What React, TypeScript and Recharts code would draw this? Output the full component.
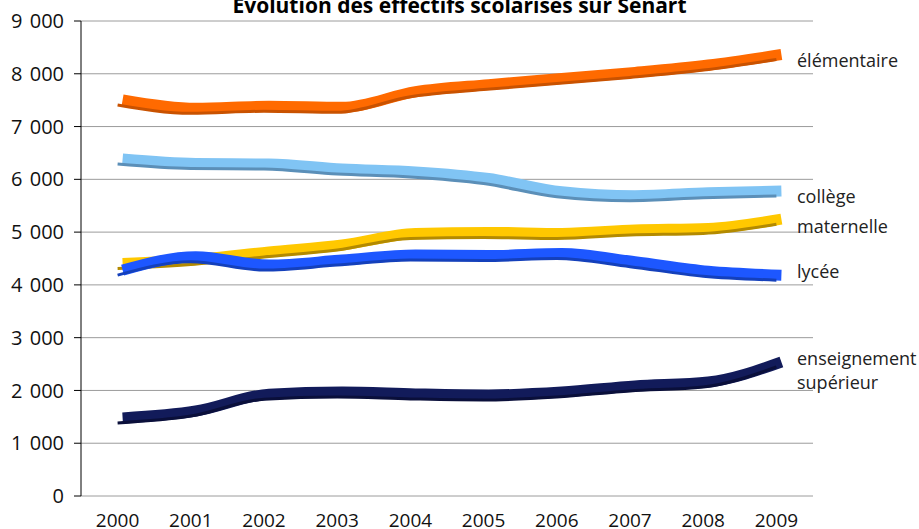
import { LineChart, Line, XAxis, YAxis, CartesianGrid } from "recharts"

const years = ["2000", "2001", "2002", "2003", "2004", "2005", "2006", "2007", "2008", "2009"]
const elementaire = [7410, 7250, 7290, 7270, 7565, 7700, 7815, 7930, 8070, 8270]
const college = [6290, 6205, 6195, 6100, 6045, 5920, 5670, 5595, 5650, 5685]
const maternelle = [4310, 4385, 4530, 4660, 4880, 4900, 4880, 4945, 4975, 5150]
const lycee = [4185, 4440, 4280, 4375, 4470, 4460, 4500, 4345, 4165, 4090]
const superieur = [1385, 1515, 1835, 1875, 1840, 1820, 1875, 1990, 2065, 2445]
const yTicks = [0, 1000, 2000, 3000, 4000, 5000, 6000, 7000, 8000, 9000]

const series = [
  { key: "elementaire", top: "#ff6a00", edge: "#c95200" },
  { key: "college", top: "#80c4f4", edge: "#5b8fb8" },
  { key: "maternelle", top: "#ffc800", edge: "#b38a00" },
  { key: "lycee", top: "#1d57ff", edge: "#1440bb" },
  { key: "superieur", top: "#121b5a", edge: "#0a0f3a" },
]

const data = years.map((year, i) => ({
  i,
  year,
  elementaire: elementaire[i],
  college: college[i],
  maternelle: maternelle[i],
  lycee: lycee[i],
  superieur: superieur[i],
}))

const bandTicks = years.map((_, i) => i - 0.5).concat(years.length - 0.5)

const fmtY = (v: number) => (v === 0 ? "0" : `${v / 1000} 000`)

const font = "'Open Sans', 'Noto Sans', sans-serif"

const labels = [
  { text: "élémentaire", top: 48 },
  { text: "collège", top: 184 },
  { text: "maternelle", top: 214 },
  { text: "lycée", top: 259 },
  { text: "enseignement", top: 346 },
  { text: "supérieur", top: 370 },
]

export default function App() {
  return (
    <div style={{ position: "absolute", left: 0, top: 0, width: 919, height: 529, overflow: "hidden", background: "#fff", fontFamily: font }}>
      <style>{`.rib-top { transform: translate(5px, -5px); }`}</style>
      <LineChart width={919} height={529} data={data} margin={{ top: 21, right: 106, bottom: 0, left: 0 }}>
        <CartesianGrid xAxisId="lbl" vertical={false} stroke="#9c9c9c" />
        <XAxis
          xAxisId="bnd"
          type="number"
          dataKey="i"
          domain={[-0.5, years.length - 0.5]}
          ticks={bandTicks}
          tick={false}
          tickSize={7}
          height={0}
          axisLine={{ stroke: "#000" }}
          tickLine={{ stroke: "#000" }}
        />
        <XAxis
          xAxisId="lbl"
          type="number"
          dataKey="i"
          domain={[-0.5, years.length - 0.5]}
          ticks={years.map((_, i) => i)}
          tickFormatter={(v: number) => years[v]}
          tick={{ fontSize: 19, fill: "#111", fontFamily: font }}
          tickLine={false}
          axisLine={false}
          tickMargin={12}
          height={33}
        />
        <YAxis
          domain={[0, 9000]}
          ticks={yTicks}
          tickFormatter={fmtY}
          width={81}
          tick={{ fontSize: 20, fill: "#111", fontFamily: font, wordSpacing: 2 }}
          tickSize={7}
          tickMargin={10}
          axisLine={{ stroke: "#000" }}
          tickLine={{ stroke: "#000" }}
        />
        {series.flatMap((s) => [
          <Line
            key={s.key + "-top"}
            xAxisId="lbl"
            className="rib-top"
            dataKey={s.key}
            type="monotone"
            stroke={s.top}
            strokeWidth={11}
            dot={false}
            activeDot={false}
            isAnimationActive={false}
          />,
          <Line
            key={s.key + "-edge"}
            xAxisId="lbl"
            dataKey={s.key}
            type="monotone"
            stroke={s.edge}
            strokeWidth={3}
            dot={false}
            activeDot={false}
            isAnimationActive={false}
          />,
        ])}
      </LineChart>
      <div
        style={{
          position: "absolute",
          left: 0,
          width: 919,
          top: -5,
          textAlign: "center",
          fontWeight: 700,
          fontSize: 21,
          lineHeight: "21px",
          color: "#000",
        }}
      >
        Évolution des effectifs scolarisés sur Sénart
      </div>
      {labels.map((l) => (
        <div
          key={l.text}
          style={{ position: "absolute", left: 797, top: l.top, fontSize: 18, lineHeight: "24px", color: "#222", whiteSpace: "nowrap" }}
        >
          {l.text}
        </div>
      ))}
    </div>
  )
}
